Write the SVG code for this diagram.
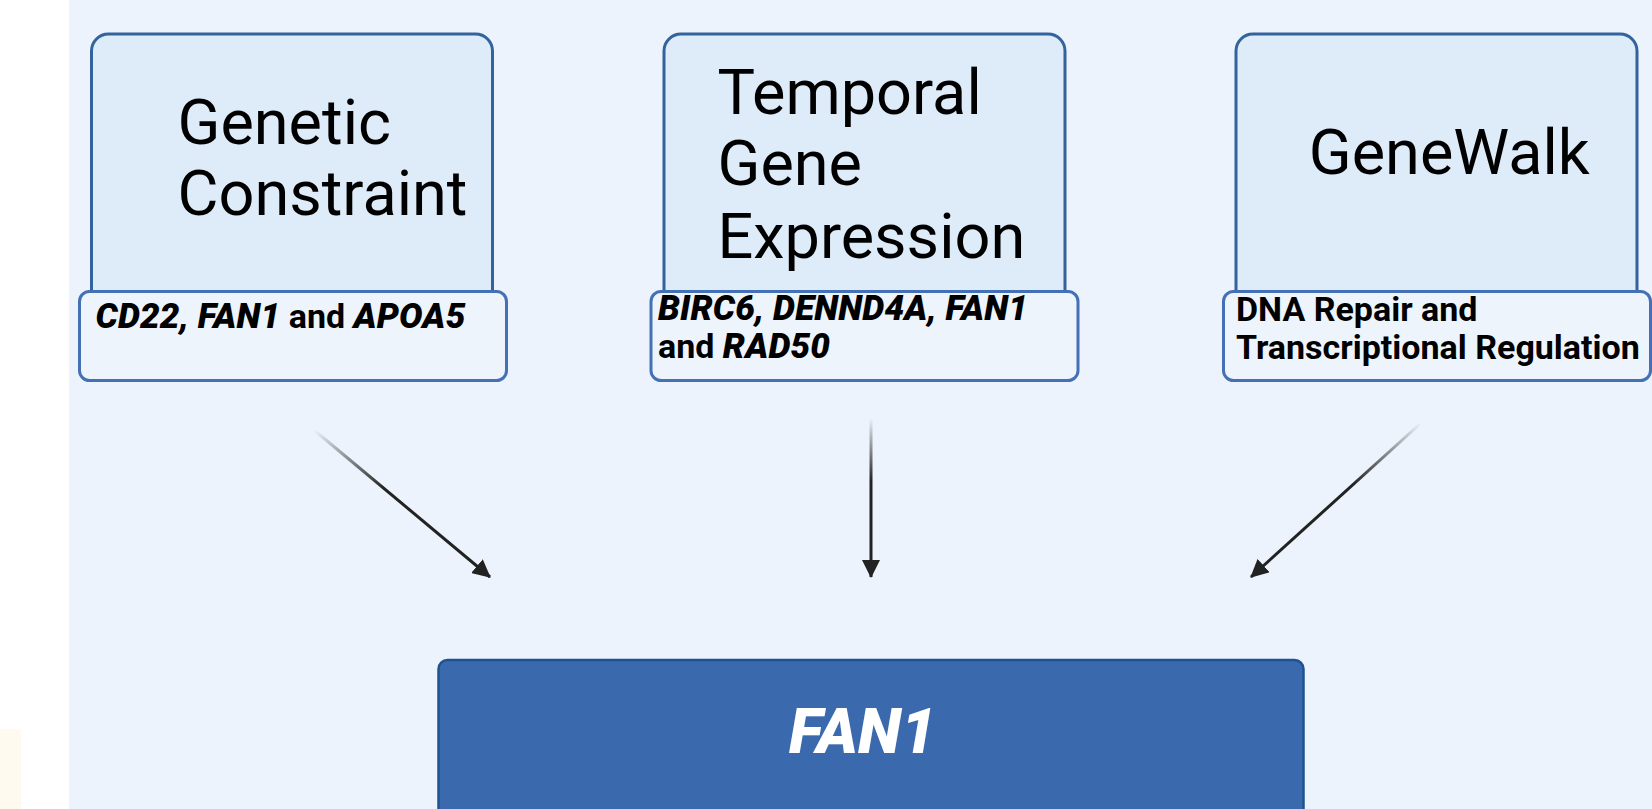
<svg xmlns="http://www.w3.org/2000/svg" width="1652" height="809" viewBox="0 0 1652 809">
  <style>
    .top { fill: #deebf9; stroke: #33639c; stroke-width: 3; }
    .sub { fill: #edf4fc; stroke: #4470b6; stroke-width: 3; }
    .title { font-family: Roboto, "Liberation Sans", sans-serif; font-size: 63px; fill: #000; }
    .lbl { font-family: Roboto, "Liberation Sans", sans-serif; font-size: 34px; font-weight: bold; fill: #000; }
    .it { font-style: italic; font-weight: 900; font-size: 35px; letter-spacing: 0.15px; }
    .conn { fill: none; stroke-width: 3; }
  </style>
  <defs>
    <marker id="ah" markerUnits="userSpaceOnUse" markerWidth="18" markerHeight="18" viewBox="0 0 18 18" refX="17" refY="9" orient="auto">
      <path d="M0,0 L18,9 L0,18 z" fill="#222"/>
    </marker>
    <linearGradient id="g1" gradientUnits="userSpaceOnUse" x1="314" y1="430" x2="490" y2="577">
      <stop offset="0" stop-color="#222" stop-opacity="0"/>
      <stop offset="0.4" stop-color="#222" stop-opacity="1"/>
      <stop offset="1" stop-color="#222" stop-opacity="1"/>
    </linearGradient>
    <linearGradient id="g2" gradientUnits="userSpaceOnUse" x1="871" y1="418" x2="871" y2="577">
      <stop offset="0" stop-color="#222" stop-opacity="0"/>
      <stop offset="0.4" stop-color="#222" stop-opacity="1"/>
      <stop offset="1" stop-color="#222" stop-opacity="1"/>
    </linearGradient>
    <linearGradient id="g3" gradientUnits="userSpaceOnUse" x1="1421" y1="423" x2="1251" y2="577">
      <stop offset="0" stop-color="#222" stop-opacity="0"/>
      <stop offset="0.4" stop-color="#222" stop-opacity="1"/>
      <stop offset="1" stop-color="#222" stop-opacity="1"/>
    </linearGradient>
  </defs>

  <rect x="0" y="0" width="1652" height="809" fill="#ffffff"/>
  <rect x="69" y="0" width="1583" height="809" fill="#ecf3fc"/>
  <rect x="0" y="729" width="21" height="80" fill="#fffaf0"/>

  <g id="node-genetic-constraint">
    <rect class="top" x="91.5" y="34" width="401" height="280" rx="17"/>
    <text class="title" x="177.5" y="144">Genetic</text>
    <text class="title" x="177.5" y="215">Constraint</text>
    <rect class="sub" x="79.5" y="291.5" width="427" height="89" rx="10"/>
    <text class="lbl" x="95.5" y="328"><tspan class="it">CD22, FAN1</tspan> and <tspan class="it">APOA5</tspan></text>
  </g>

  <g id="node-temporal">
    <rect class="top" x="664" y="34" width="401" height="280" rx="17"/>
    <text class="title" x="717.5" y="114.3">Temporal</text>
    <text class="title" x="717.5" y="185">Gene</text>
    <text class="title" x="717.5" y="257.7">Expression</text>
    <rect class="sub" x="651" y="291.5" width="427" height="89" rx="10"/>
    <text class="lbl" x="658" y="320"><tspan class="it">BIRC6, DENND4A, FAN1</tspan></text>
    <text class="lbl" x="658" y="358.3">and <tspan class="it">RAD50</tspan></text>
  </g>

  <g id="node-genewalk">
    <rect class="top" x="1236" y="34" width="401" height="280" rx="17"/>
    <text class="title" x="1308.8" y="174">GeneWalk</text>
    <rect class="sub" x="1223.5" y="291.5" width="427" height="89" rx="10"/>
    <text class="lbl" x="1236" y="320.7">DNA Repair and</text>
    <text class="lbl" x="1236" y="359.3">Transcriptional Regulation</text>
  </g>

  <g id="connectors">
    <line class="conn" x1="314" y1="430" x2="490" y2="577" stroke="url(#g1)" marker-end="url(#ah)"/>
    <line class="conn" x1="871" y1="418" x2="871" y2="577" stroke="url(#g2)" marker-end="url(#ah)"/>
    <line class="conn" x1="1421" y1="423" x2="1251" y2="577" stroke="url(#g3)" marker-end="url(#ah)"/>
  </g>

  <g id="node-fan1">
    <rect x="438.5" y="660" width="865" height="200" rx="9" fill="#3a69ae" stroke="#1d5490" stroke-width="2.5"/>
    <text x="789" y="753" font-family="Roboto, 'Liberation Sans', sans-serif" font-size="63" font-weight="900" font-style="italic" fill="#ffffff">FAN1</text>
  </g>
</svg>
